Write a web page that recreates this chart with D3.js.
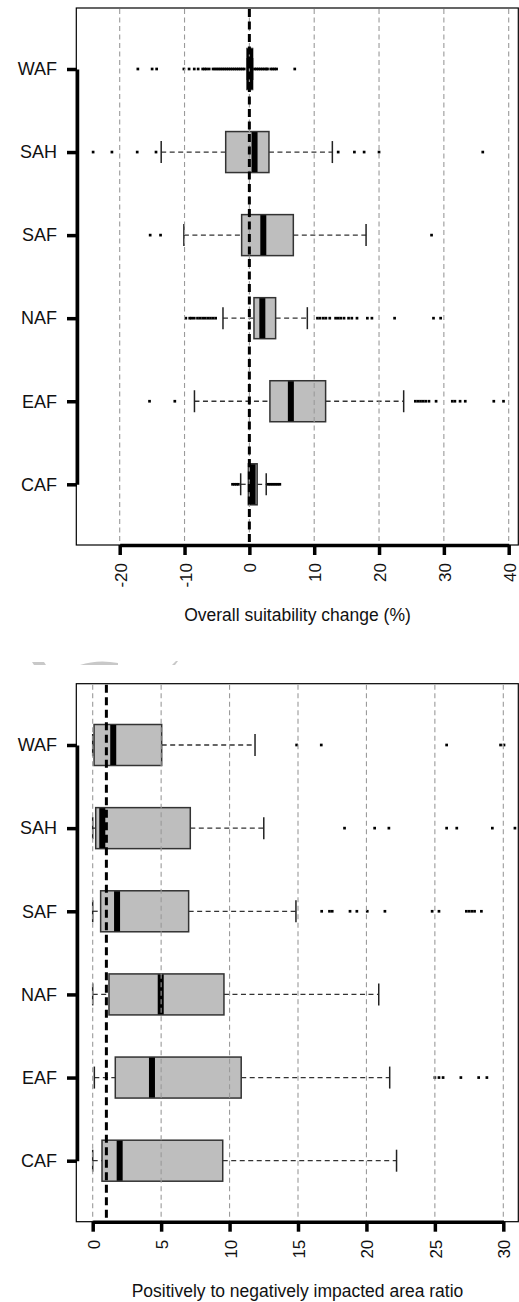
<!DOCTYPE html>
<html>
<head>
<meta charset="utf-8">
<script src="https://cdn.jsdelivr.net/npm/d3@7"></script>
<style>
  html, body { margin: 0; padding: 0; background: #fff; }
  svg { display: block; font-family: "Liberation Sans", Arial, sans-serif; }
</style>
</head>
<body>
<svg id="chart" width="519" height="1302"></svg>
<script>
// ---------------- DATA ----------------
const categories = ["WAF", "SAH", "SAF", "NAF", "EAF", "CAF"];

// Panel 1: Overall suitability change (%)
const suitWhiskerLow  = [-0.37, -13.6, -10.1, -4.07, -8.47, -1.34];
const suitQ1          = [-0.37, -3.65, -1.19, 0.71, 3.17, -0.15];
const suitMedian      = [0.1, 0.8, 2.15, 2.0, 6.4, 0.5];
const suitQ3          = [0.5, 3.02, 6.78, 4.05, 11.76, 1.2];
const suitWhiskerHigh = [0.5, 12.8, 18.0, 8.94, 23.8, 2.6];
const suitOutliers = [
  [-17.2, -15.0, -14.3, -10.1, -9.3, -8.5, -7.9, -7.2, -6.9, -6.6, -6.2, -5.6, -5.3, -5.0, -4.7, -4.4, -4.1, -3.8, -3.5, -3.2, -2.9, -2.6, -2.3, -2.0, -1.7, -1.4, -1.1, -0.8,
   0.8, 1.1, 1.4, 1.7, 2.0, 2.3, 2.6, 2.8, 3.3, 3.6, 3.9, 4.2, 7.0],
  [-24.1, -21.2, -17.3, -14.4, 13.7, 16.2, 17.7, 20.0, 36.0],
  [-15.3, -13.7, 28.1],
  [-9.8, -9.2, -8.9, -8.5, -8.0, -7.6, -7.2, -6.8, -6.4, -6.0, -5.6, -5.2,
   10.5, 10.9, 11.4, 11.8, 12.4, 13.3, 13.7, 14.1, 14.6, 15.3, 15.8, 16.6, 18.2, 18.9, 22.4, 28.4, 29.5],
  [-15.4, -11.5, 25.6, 26.0, 26.4, 26.8, 27.2, 27.7, 28.8, 31.3, 31.7, 32.5, 33.3, 37.7, 39.2],
  [-2.6, -2.3, -2.0, -1.7, 2.9, 3.2, 3.5, 3.8, 4.1, 4.4, 4.7]
];
const suitTicks = [-20, -10, 0, 10, 20, 30, 40];
const suitRefValue = 0;
const suitTitle = "Overall suitability change (%)";

// Panel 2: Positively to negatively impacted area ratio
const ratioWhiskerLow  = [0.0, 0.0, 0.0, 0.0, 0.12, 0.0];
const ratioQ1          = [0.1, 0.22, 0.58, 1.19, 1.65, 0.68];
const ratioMedian      = [1.5, 0.7, 1.78, 4.97, 4.33, 1.97];
const ratioQ3          = [5.04, 7.13, 7.01, 9.59, 10.85, 9.5];
const ratioWhiskerHigh = [11.86, 12.5, 14.85, 20.9, 21.7, 22.2];
const ratioOutliers = [
  [14.9, 16.7, 25.86, 29.8, 30.05],
  [18.4, 20.6, 21.64, 25.86, 26.6, 29.2, 30.85],
  [16.73, 17.3, 17.5, 18.8, 19.3, 20.06, 21.35, 24.8, 25.3, 27.3, 27.5, 27.7, 27.9, 28.4],
  [],
  [25.0, 25.3, 25.6, 26.9, 28.2, 28.8],
  []
];
const ratioTicks = [0, 5, 10, 15, 20, 25, 30];
const ratioRefValue = 1;
const ratioTitle = "Positively to negatively impacted area ratio";

// ---------------- DRAWING ----------------
const svg = d3.select("#chart");

function drawPanel(cfg) {
  const g = svg.append("g");
  const x = d3.scaleLinear().domain(cfg.xDomain).range(cfg.xRange);
  const y = d3.scalePoint().domain(categories).range(cfg.yRange).padding(0);
  const half = 20.5, cap = 11;

  const rows = categories.map((c, i) => ({
    c, lo: cfg.lo[i], q1: cfg.q1[i], med: cfg.med[i], q3: cfg.q3[i], hi: cfg.hi[i], out: cfg.out[i]
  }));

  // plot frame
  g.append("rect")
    .attr("x", cfg.frame[0]).attr("y", cfg.frame[1])
    .attr("width", cfg.frame[2] - cfg.frame[0]).attr("height", cfg.frame[3] - cfg.frame[1])
    .attr("fill", "none").attr("stroke", "#000").attr("stroke-width", 1.2);

  const b = g.selectAll(".bx").data(rows).enter().append("g").attr("class", "bx");
  // whiskers
  b.append("line").attr("x1", d => x(d.lo)).attr("x2", d => x(d.q1))
    .attr("y1", d => y(d.c)).attr("y2", d => y(d.c))
    .attr("stroke", "#333").attr("stroke-width", 1.3).attr("stroke-dasharray", "5,3.5");
  b.append("line").attr("x1", d => x(d.q3)).attr("x2", d => x(d.hi))
    .attr("y1", d => y(d.c)).attr("y2", d => y(d.c))
    .attr("stroke", "#333").attr("stroke-width", 1.3).attr("stroke-dasharray", "5,3.5");
  // caps
  b.append("line").attr("x1", d => x(d.lo)).attr("x2", d => x(d.lo))
    .attr("y1", d => y(d.c) - cap).attr("y2", d => y(d.c) + cap)
    .attr("stroke", "#222").attr("stroke-width", 1.5);
  b.append("line").attr("x1", d => x(d.hi)).attr("x2", d => x(d.hi))
    .attr("y1", d => y(d.c) - cap).attr("y2", d => y(d.c) + cap)
    .attr("stroke", "#222").attr("stroke-width", 1.5);
  // boxes
  b.append("rect").attr("x", d => x(d.q1)).attr("width", d => x(d.q3) - x(d.q1))
    .attr("y", d => y(d.c) - half).attr("height", 2 * half)
    .attr("fill", "#bebebe").attr("stroke", "#333").attr("stroke-width", 1.5);
  // medians
  b.append("rect").attr("x", d => x(d.med) - 3).attr("width", 6)
    .attr("y", d => y(d.c) - half + 0.5).attr("height", 2 * half - 1)
    .attr("fill", "#000");
  // outliers
  b.selectAll(".pt").data(d => d.out.map(v => ({ v, c: d.c }))).enter()
    .append("rect").attr("class", "pt")
    .attr("x", d => x(d.v) - 1.35).attr("y", d => y(d.c) - 1.35)
    .attr("width", 2.7).attr("height", 2.7).attr("fill", "#000");

  // grid lines (drawn on top, as in reference)
  g.selectAll(".grid").data(cfg.ticks).enter().append("line")
    .attr("x1", d => x(d)).attr("x2", d => x(d))
    .attr("y1", cfg.frame[1] + 1).attr("y2", cfg.frame[3] - 1)
    .attr("stroke", "#9a9a9a").attr("stroke-width", 1.1).attr("stroke-dasharray", "5,3.5");

  // reference line
  g.append("line")
    .attr("x1", x(cfg.ref)).attr("x2", x(cfg.ref))
    .attr("y1", cfg.frame[1] + 1).attr("y2", cfg.frame[3])
    .attr("stroke", "#000").attr("stroke-width", 3).attr("stroke-dasharray", "8,4.5");

  // x axis
  const xa = g.append("g").attr("transform", `translate(0,${cfg.frame[3]})`)
    .call(d3.axisBottom(x).tickValues(cfg.ticks).tickSizeInner(10).tickSizeOuter(0).tickPadding(8)
      .tickFormat(d => String(d)));
  xa.select(".domain").attr("stroke", "#000").attr("stroke-width", 3.5);
  xa.selectAll(".tick line").attr("stroke", "#000").attr("stroke-width", 3.5);
  xa.selectAll(".tick text")
    .attr("transform", "rotate(-90)")
    .attr("x", -18).attr("y", 0).attr("dy", "0.38em")
    .attr("text-anchor", "end")
    .attr("font-size", 17).attr("font-family", "Liberation Sans, Arial, sans-serif").attr("fill", "#111");

  // y axis
  const ya = g.append("g").attr("transform", `translate(${cfg.frame[0] + 0.7},0)`)
    .call(d3.axisLeft(y).tickSizeInner(10).tickSizeOuter(0).tickPadding(10));
  ya.select(".domain").attr("stroke", "#000").attr("stroke-width", 3.5);
  ya.selectAll(".tick line").attr("stroke", "#000").attr("stroke-width", 3.5);
  ya.selectAll(".tick text")
    .attr("font-size", 18).attr("font-family", "Liberation Sans, Arial, sans-serif").attr("fill", "#111");

  // title
  g.append("text").attr("x", 297.5).attr("y", cfg.titleY)
    .attr("text-anchor", "middle").attr("font-size", 17.5).attr("fill", "#111")
    .text(cfg.title);
}

drawPanel({
  xDomain: [-20, 40], xRange: [119.7, 508.7],
  yRange: [69, 484.3], frame: [76.3, 8, 518.3, 545],
  lo: suitWhiskerLow, q1: suitQ1, med: suitMedian, q3: suitQ3, hi: suitWhiskerHigh, out: suitOutliers,
  ticks: suitTicks, ref: suitRefValue, title: suitTitle, titleY: 621
});

drawPanel({
  xDomain: [0, 30], xRange: [92.7, 503.3],
  yRange: [745, 1160.7], frame: [76.3, 683.7, 518.3, 1221.7],
  lo: ratioWhiskerLow, q1: ratioQ1, med: ratioMedian, q3: ratioQ3, hi: ratioWhiskerHigh, out: ratioOutliers,
  ticks: ratioTicks, ref: ratioRefValue, title: ratioTitle, titleY: 1297
});

// faint grey artefact between panels (as in reference)
const art = svg.append("g").attr("fill", "#c8c8c8");
art.append("path").attr("d", "M32,662 L44,662 L46,665 L34,665 Z");
art.append("path").attr("d", "M80,665 Q98,659 118,663 L118,665 Z");
art.append("path").attr("d", "M172,665 L176,661 L178,661 L175,665 Z");
</script>
</body>
</html>
